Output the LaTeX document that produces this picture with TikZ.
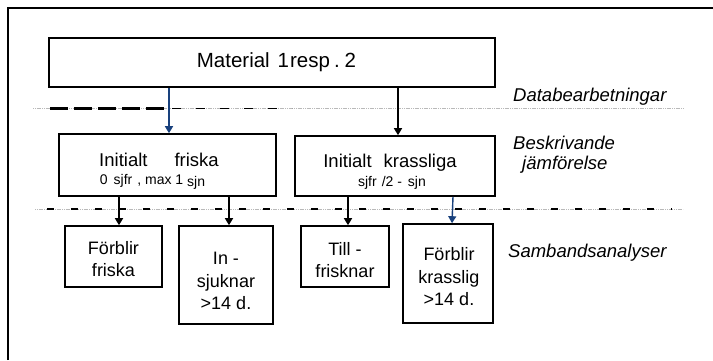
\documentclass[tikz,border=0pt]{standalone}
\usepackage{fontspec}
\setmainfont{Liberation Sans}
\usetikzlibrary{arrows.meta}
\definecolor{navy}{RGB}{25,65,125}
\begin{document}
\begin{tikzpicture}[x=1pt,y=-1pt,
  box/.style={draw, line width=1.6pt, inner sep=0pt, align=center, font=\fontsize{18}{22.5}\selectfont},
  btext/.style={inner sep=0pt, align=center, font=\fontsize{18}{22.5}\selectfont},
  lab/.style={inner sep=0pt, font=\fontsize{18.5}{22}\selectfont},
  small/.style={inner sep=0pt, font=\fontsize{14}{16}\selectfont},
  side/.style={inner sep=0pt, anchor=west, font=\fontsize{18.5}{22}\selectfont\itshape},
  arr/.style={line width=1.4pt, -{Triangle[width=8pt,length=7pt]}},
  barr/.style={arr, draw=navy, fill=navy},
  guide/.style={draw=gray!55, line width=0.9pt, dash pattern=on 1.2pt off 0.6pt},
  heavydash/.style={line width=2.4pt}]
\useasboundingbox (0,0) rectangle (713,360);
% outer frame
\draw[line width=2pt] (8,360) -- (8,8) -- (713,8);

% boxes
\node[box, minimum width=446pt, minimum height=49pt] (mat) at (272,62.5) {};
\node[lab, font=\fontsize{20.5}{24}\selectfont] (matT) at (276.5,62) {Material\hspace{8pt}1\hspace{1pt}resp\hspace{4pt}.\hspace{5pt}2};

\node[box, minimum width=217pt, minimum height=62pt] (fr) at (167.5,165) {};
\node[lab] (frT) at (159,160) {Initialt\hspace{27pt}friska};
\node[small] (frS) at (152.5,182) {0\hspace{6pt}sjfr\hspace{5pt}, max 1 \raisebox{-1.5pt}{sjn}};

\node[box, minimum width=200pt, minimum height=60pt] (kr) at (395,166) {};
\node[lab] (krT) at (390,163) {Initialt\hspace{12pt}krassliga};
\node[small] (krS) at (392,183) {sjfr\hspace{5pt}/2 -\hspace{6pt}sjn};

\node[box, minimum width=97pt, minimum height=61pt] (ff) at (113.5,256.5) {};
\node[btext] (ffT) at (113.5,259) {Förblir\\friska};
\node[box, minimum width=94pt, minimum height=98pt] (ins) at (226,275) {};
\node[btext] (insT) at (226,281) {In -\\sjuknar\\>14 d.};
\node[box, minimum width=88pt, minimum height=61pt] (tf) at (345,256.5) {};
\node[btext] (tfT) at (345,260) {Till -\\frisknar};
\node[box, minimum width=90pt, minimum height=99pt] (fk) at (448,273.5) {};
\node[btext] (fkT) at (449,277) {Förblir\\krasslig\\>14 d.};

% side labels
\node[side] (lDb) at (513,97) {Databearbetningar};
\node[side] (lBe) at (513,143) {Beskrivande};
\node[side] (lJa) at (522,165) {jämförelse};
\node[side] (lSa) at (508,253) {Sambandsanalyser};

% separator lines
\draw[guide] (33,108.5) -- (683,108.5);
\draw[heavydash, dash pattern=on 18pt off 6pt] (50,108.5) -- (167,108.5);
\draw[line width=1.6pt, dash pattern=on 9pt off 15pt] (172,108.5) -- (292,108.5);

\draw[guide] (35,209) -- (683,209);
\draw[line width=2.2pt, dash pattern=on 7pt off 17pt] (47,209) -- (672,209);

% connectors
\draw[barr] (mat.south -| 169,0) -- (fr.north -| 169,0);
\draw[arr] (mat.south -| 398,0) -- (kr.north -| 398,0);
\draw[arr] (fr.south -| 119,0) -- (ff.north -| 119,0);
\draw[arr] (fr.south -| 229,0) -- (ins.north -| 229,0);
\draw[arr] (kr.south -| 348,0) -- (tf.north -| 348,0);
\draw[barr] (kr.south -| 453,0) -- (fk.north -| 452,0);
\end{tikzpicture}
\end{document}
